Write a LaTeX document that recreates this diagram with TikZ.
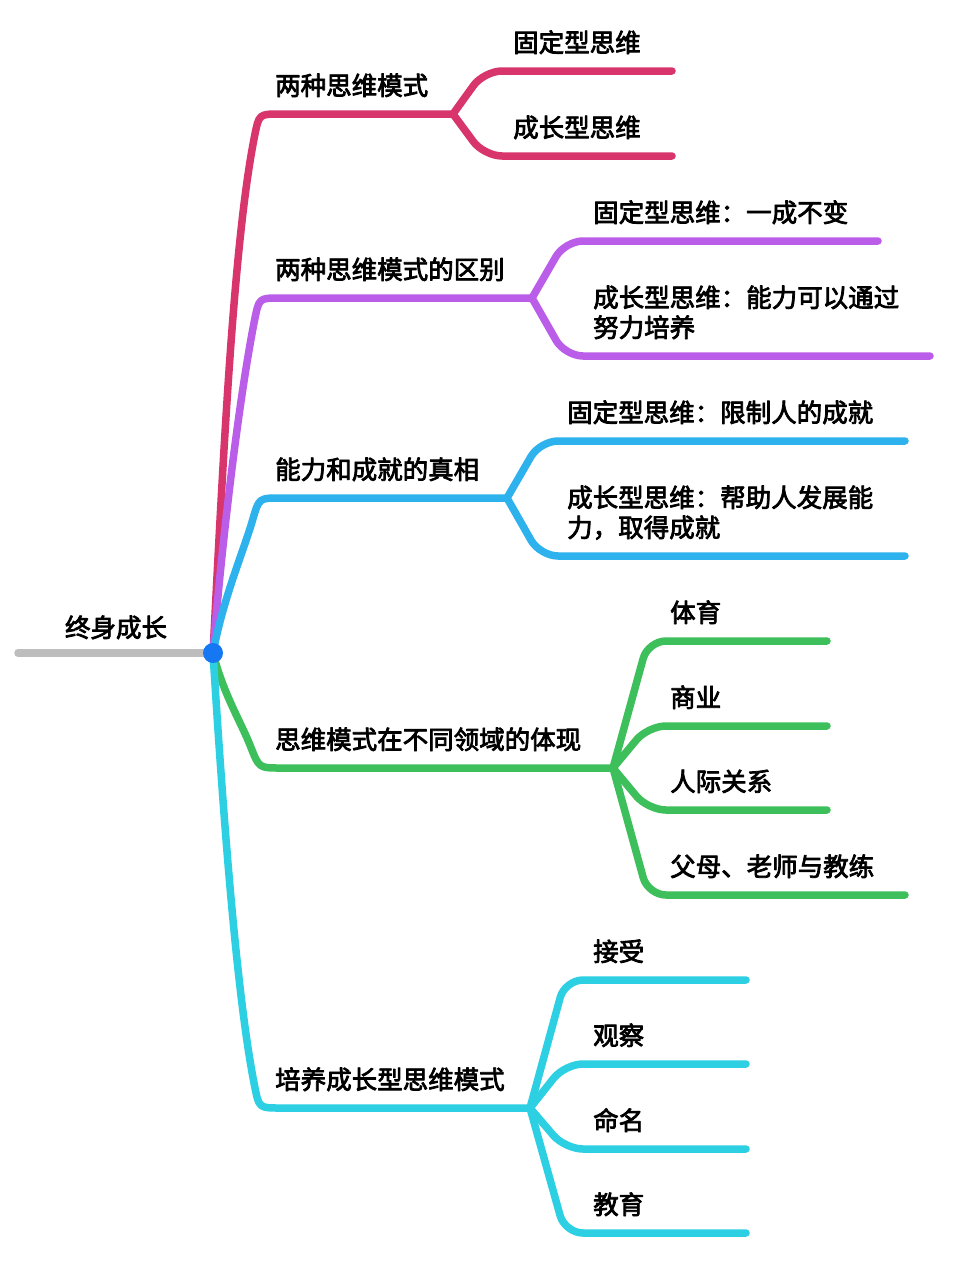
\documentclass[tikz,border=0pt]{standalone}
\usepackage{fontspec}
\setmainfont{Noto Sans CJK SC}
\newfontfamily\lblfont{Noto Sans CJK SC}[FakeBold=3]
\definecolor{cRed}{HTML}{D8356C}
\definecolor{cPurple}{HTML}{BA5DE8}
\definecolor{cBlue}{HTML}{2EB2EE}
\definecolor{cGreen}{HTML}{3DC05B}
\definecolor{cCyan}{HTML}{2DCFE2}
\definecolor{cGray}{HTML}{BDBDBD}
\definecolor{cDot}{HTML}{1677F2}
\begin{document}
\begin{tikzpicture}[x=1pt,y=-1pt,line cap=round,line join=round,
	lbl/.style={anchor=base west,inner sep=0pt,align=left,font=\fontsize{25.5}{30}\selectfont\lblfont},
	br/.style={line width=7.5pt},
	sub/.style={line width=7.5pt,rounded corners=18pt}]
	\useasboundingbox[fill=white] (0,0) rectangle (967,1285);
	
	\coordinate (o) at (213,653);
	\coordinate (g) at (18,653);
	\node[lbl,anchor=base] (root) at (116,637) {终身成长};
	
	% main branches
	\foreach \n/\Y/\F/\c in {1/114/453/cRed,2/298/532/cPurple,3/498/507/cBlue,4/768/613/cGreen,5/1108/530/cCyan}{
		\pgfmathsetmacro\bd{\Y-653}
		\pgfmathsetmacro\bs{sign(\bd)}
		\pgfmathsetmacro\bl{0.2*abs(\bd)}
		\pgfmathsetmacro\ba{max(45/abs(\bd),0.2)}
		\coordinate (f\n) at (\F,\Y);
		\draw[br,\c] (o) .. controls (223,{653+0.35*\bd}) and ({259-22*\ba-\bl*\ba},{\Y-(\bs)*(22+\bl)}) .. ({259-22*\ba},{\Y-(\bs)*22})
			.. controls (259,\Y) .. (280,\Y) -- (f\n);
	}
	\node[lbl] (t1) at (275,95) {两种思维模式};
	\node[lbl] (t2) at (275,279) {两种思维模式的区别};
	\node[lbl] (t3) at (275,479) {能力和成就的真相};
	\node[lbl] (t4) at (275,749) {思维模式在不同领域的体现};
	\node[lbl] (t5) at (275,1089) {培养成长型思维模式};
	
	% sub branches
	\foreach \y/\e [count=\i] in {71/672,156/672}{
		\coordinate (e1\i) at (\e,\y);
		\draw[sub,cRed] (f1) -- ([xshift=31pt]f1 |- e1\i) -- (e1\i);
	}
	\node[lbl] (t11) at (513,52) {固定型思维};
	\node[lbl] (t12) at (513,137) {成长型思维};
	
	\foreach \y/\e [count=\i] in {241/878,356/930}{
		\coordinate (e2\i) at (\e,\y);
		\draw[sub,cPurple] (f2) -- ([xshift=33pt]f2 |- e2\i) -- (e2\i);
	}
	\node[lbl] (t21) at (593,222) {固定型思维：一成不变};
	\node[lbl] (t22) at (593,337) {成长型思维：能力可以通过\\努力培养};
	
	\foreach \y/\e [count=\i] in {441/905,556/905}{
		\coordinate (e3\i) at (\e,\y);
		\draw[sub,cBlue] (f3) -- ([xshift=33pt]f3 |- e3\i) -- (e3\i);
	}
	\node[lbl] (t31) at (567,422) {固定型思维：限制人的成就};
	\node[lbl] (t32) at (567,537) {成长型思维：帮助人发展能\\力，取得成就};
	
	\foreach \y/\e [count=\i] in {641/827,726/827,810/827,895/905}{
		\coordinate (e4\i) at (\e,\y);
		\draw[sub,cGreen] (f4) -- ([xshift=35pt]f4 |- e4\i) -- (e4\i);
	}
	\node[lbl] (t41) at (670,622) {体育};
	\node[lbl] (t42) at (670,707) {商业};
	\node[lbl] (t43) at (670,791) {人际关系};
	\node[lbl] (t44) at (670,876) {父母、老师与教练};
	
	\foreach \y/\e [count=\i] in {980/746,1064/746,1149/746,1233/746}{
		\coordinate (e5\i) at (\e,\y);
		\draw[sub,cCyan] (f5) -- ([xshift=35pt]f5 |- e5\i) -- (e5\i);
	}
	\node[lbl] (t51) at (593,961) {接受};
	\node[lbl] (t52) at (593,1045) {观察};
	\node[lbl] (t53) at (593,1130) {命名};
	\node[lbl] (t54) at (593,1214) {教育};
	
	% root
	\draw[br,cGray] (g) -- (o);
	\node[circle,fill=cDot,inner sep=0pt,minimum size=20pt] (hub) at (o) {};
\end{tikzpicture}
\end{document}
